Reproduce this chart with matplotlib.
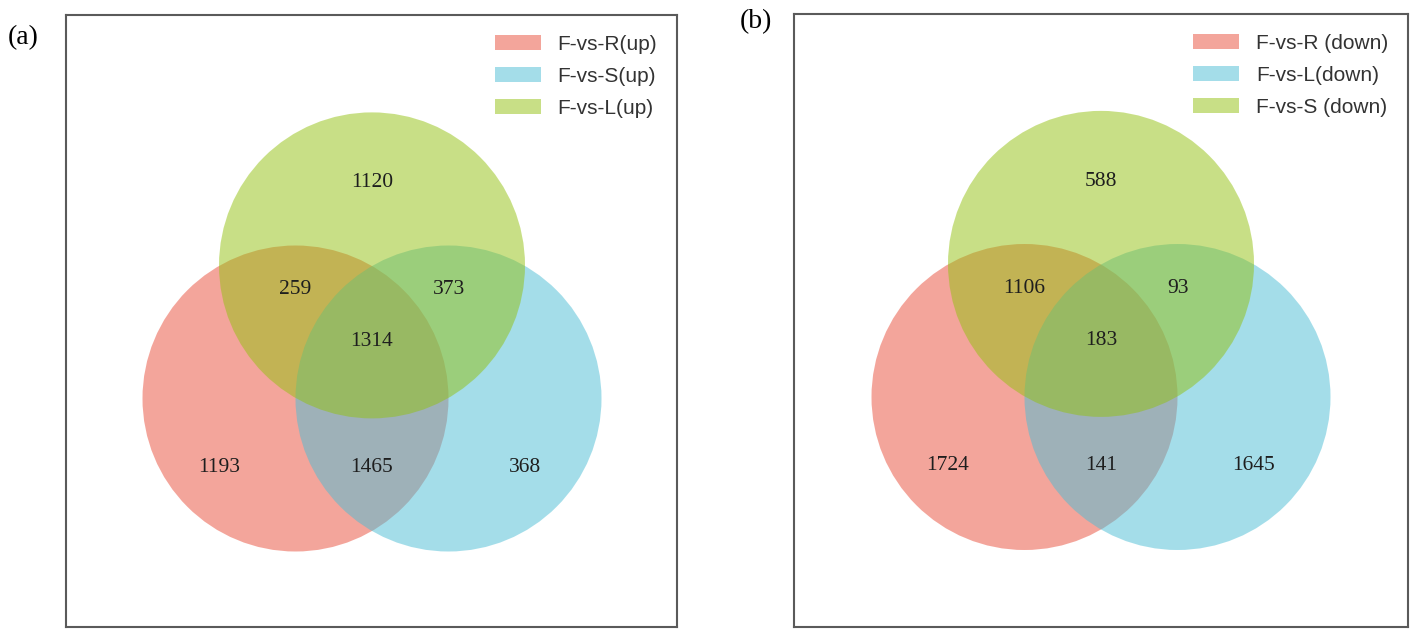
import matplotlib
matplotlib.use("Agg")
import matplotlib.pyplot as plt
from matplotlib.patches import Circle, Patch

# region counts, order: A only, B only, C only, A&B, A&C, B&C, A&B&C
# A = red (bottom left), B = blue (bottom right), C = green (top)
labels_a = ["F-vs-R(up)", "F-vs-S(up)", "F-vs-L(up)"]
counts_a = [1193, 368, 1120, 1465, 259, 373, 1314]

labels_b = ["F-vs-R (down)", "F-vs-L(down)", "F-vs-S (down)"]
counts_b = [1724, 1645, 588, 141, 1106, 93, 183]

colors = ["#E94D39", "#4BBDD5", "#93C10F"]

W, H = 1417, 636
R_PX = 153.0  # circle radius in pixels

# circle centres in units of radius (red, blue, green)
centres = [(-0.5, 0.0), (0.5, 0.0), (0.0, 0.87)]
# label spots in units of radius, same order as counts
spots = [(-1.0, -0.45), (1.0, -0.45), (0.0, 1.41),
         (0.0, -0.45), (-0.5, 0.71), (0.5, 0.71), (0.0, 0.37)]


def venn_panel(fig, box, origin, labels, counts, tag, tag_xy):
    # box = (left, top, right, bottom) in pixels, origin = centre point in pixels
    l, t, r, b = box
    ax = fig.add_axes([l / W, (H - b) / H, (r - l) / W, (b - t) / H])
    ox, oy = origin
    ax.set_xlim((l - ox) / R_PX, (r - ox) / R_PX)
    ax.set_ylim((oy - b) / R_PX, (oy - t) / R_PX)
    ax.set_xticks([]), ax.set_yticks([])
    for s in ax.spines.values():
        s.set_color("#5a5a5a")
        s.set_linewidth(1.5)

    for (cx, cy), c in zip(centres, colors):
        ax.add_patch(Circle((cx, cy), 1.0, facecolor=c, alpha=0.5, edgecolor="none"))

    for (x, y), n in zip(spots, counts):
        ax.text(x, y, str(n), ha="center", va="center", fontsize=15.5,
                family="Liberation Serif", color="#1e1e1e")

    handles = [Patch(facecolor=c, alpha=0.5, edgecolor="none") for c in colors]
    ax.legend(handles, labels, loc="upper right", frameon=False,
              prop={"family": "Liberation Sans", "size": 15},
              handlelength=2.2, handleheight=0.75, handletextpad=0.8,
              labelspacing=0.62, borderaxespad=0.55, labelcolor="#333333")

    fig.text(tag_xy[0] / W, 1 - tag_xy[1] / H, tag, ha="center", va="center",
             fontsize=20, family="Liberation Serif")
    return ax


fig = plt.figure(figsize=(W / 100, H / 100), dpi=100)
venn_panel(fig, (66, 15, 677, 627), (372, 398.5), labels_a, counts_a, "(a)", (23, 38))
venn_panel(fig, (794, 14, 1408, 627), (1101, 397), labels_b, counts_b, "(b)", (756, 22))
fig.savefig("out.png", dpi=100)
